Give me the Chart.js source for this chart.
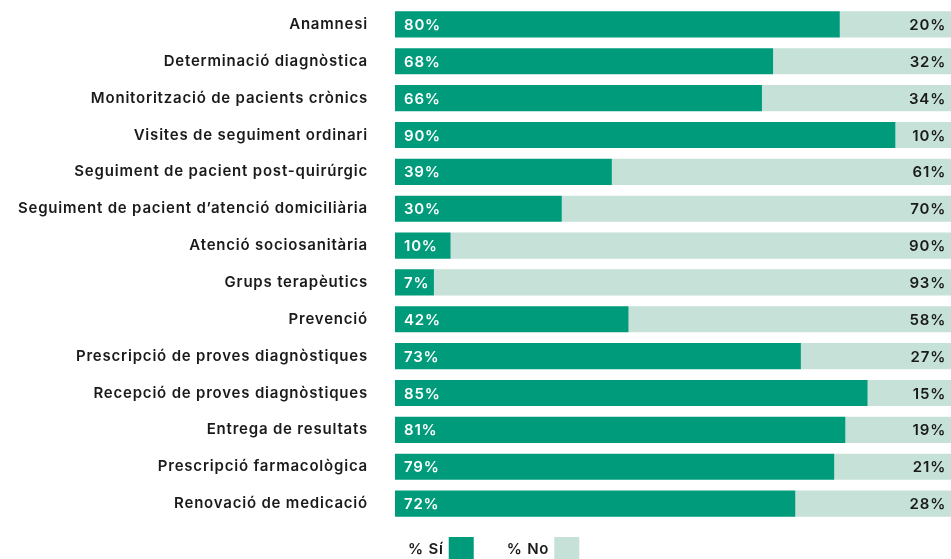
<!DOCTYPE html>
<html><head><meta charset="utf-8">
<script src="https://cdn.jsdelivr.net/npm/chart.js@4/dist/chart.umd.min.js"></script>
<style>html,body{margin:0;padding:0;background:#fff}#wrap{width:951px;height:559px;position:relative}</style>
</head><body><div id="wrap"><canvas id="c" width="951" height="559"></canvas></div>
<script>
const categories = ["Anamnesi","Determinació diagnòstica","Monitorització de pacients crònics","Visites de seguiment ordinari","Seguiment de pacient post-quirúrgic","Seguiment de pacient d’atenció domiciliària","Atenció sociosanitària","Grups terapèutics","Prevenció","Prescripció de proves diagnòstiques","Recepció de proves diagnòstiques","Entrega de resultats","Prescripció farmacològica","Renovació de medicació"];
const seriesNames = ["% Sí","% No"];
const siValues = [80,68,66,90,39,30,10,7,42,73,85,81,79,72];
const noValues = [20,32,34,10,61,70,90,93,58,27,15,19,21,28];
const colors = ["#009b7a","#c6e1d8"];
const FONT = "Inter, 'Open Sans', sans-serif";
const LS = '0.8px';

const spacing = {
  id:'spacing',
  beforeDraw(chart){ chart.ctx.letterSpacing = LS; }
};
const valueLabels = {
  id:'valueLabels',
  afterDatasetsDraw(chart){
    const ctx = chart.ctx;
    ctx.save();
    ctx.letterSpacing = LS;
    ctx.font = "600 15px " + FONT;
    ctx.textBaseline = 'middle';
    chart.data.datasets.forEach((ds,di)=>{
      const meta = chart.getDatasetMeta(di);
      meta.data.forEach((bar,i)=>{
        const v = ds.data[i];
        if(di===0){ ctx.fillStyle='#ffffff'; ctx.textAlign='left'; ctx.fillText(v+'%', bar.base+9, bar.y+1); }
        else { ctx.fillStyle='#1a1a1a'; ctx.textAlign='right'; ctx.fillText(v+'%', bar.x-5, bar.y+1); }
      });
    });
    ctx.restore();
  }
};
const customLegend = {
  id:'customLegend',
  afterDraw(chart){
    const ctx = chart.ctx;
    ctx.save();
    ctx.letterSpacing = LS;
    ctx.font = "600 15px " + FONT;
    ctx.textBaseline='middle';
    ctx.textAlign='left';
    let x = 408;
    const y = 549;
    chart.data.datasets.forEach((ds,di)=>{
      ctx.fillStyle='#1a1a1a';
      ctx.fillText(ds.label, x, y);
      const w = ctx.measureText(ds.label).width;
      ctx.fillStyle = ds.backgroundColor;
      ctx.fillRect(x + w + 5, 537, 25, 22);
      x = x + w + 5 + 25 + 33;
    });
    ctx.restore();
  }
};

new Chart(document.getElementById('c'), {
  type:'bar',
  data:{
    labels: categories,
    datasets:[
      {label:seriesNames[0], data:siValues, backgroundColor:colors[0]},
      {label:seriesNames[1], data:noValues, backgroundColor:colors[1]}
    ]
  },
  options:{
    indexAxis:'y',
    responsive:false,
    animation:false,
    layout:{padding:{top:6,bottom:37,left:0,right:0}},
    datasets:{bar:{categoryPercentage:1,barPercentage:0.71,borderWidth:0}},
    plugins:{legend:{display:false},tooltip:{enabled:false}},
    scales:{
      x:{stacked:true,min:0,max:100,display:false},
      y:{stacked:true,
        grid:{display:false,drawTicks:false},
        border:{display:false},
        ticks:{padding:27,color:'#1a1a1a',font:{family:FONT,size:15,weight:'600'}},
        afterFit(s){s.width=395; s.paddingTop=0; s.paddingBottom=0;}
      }
    }
  },
  plugins:[spacing,valueLabels,customLegend]
});
</script></body></html>
